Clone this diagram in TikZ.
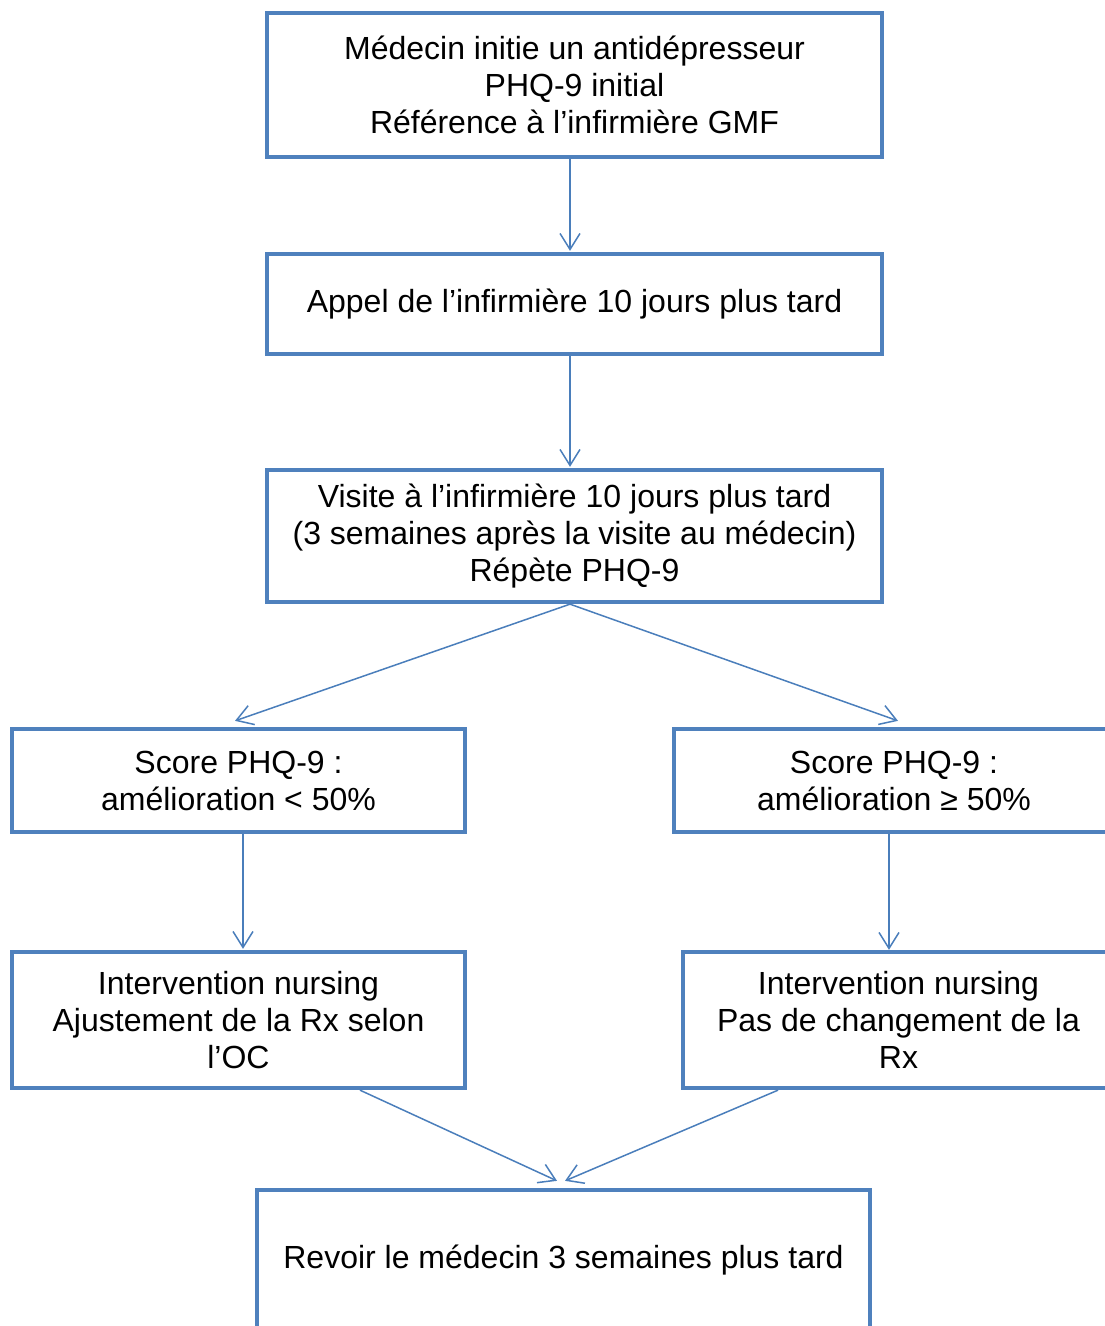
\documentclass[tikz,border=0pt]{standalone}
\usepackage{fontspec}
\setmainfont{Liberation Sans}
\usetikzlibrary{arrows.meta,calc}
\definecolor{boxblue}{HTML}{4F81BD}
\definecolor{arrblue}{HTML}{4A7EBB}
\begin{document}
\begin{tikzpicture}[x=1pt,y=-1pt,
  box/.style={draw=boxblue,line width=4.3pt,rectangle,align=center,inner sep=0pt,
    font=\fontsize{32}{37}\selectfont},
  arr/.style={draw=arrblue,line width=1.5pt,-{Straight Barb[length=16pt,width=20pt]}}]
\useasboundingbox (0,0) rectangle (1104,1326);
\node[box,minimum width=615,minimum height=144] (b1) at (574.5,85)
  {Médecin initie un antidépresseur\\PHQ-9 initial\\Référence à l’infirmière GMF};
\node[box,minimum width=615,minimum height=100] (b2) at (574.5,304)
  {\raisebox{-3pt}{Appel de l’infirmière 10 jours plus tard}};
\node[box,minimum width=615,minimum height=132] (b3) at (574.5,536)
  {Visite à l’infirmière 10 jours plus tard\\(3 semaines après la visite au médecin)\\Répète PHQ-9};
\node[box,minimum width=453,minimum height=103] (b4) at (238.5,780.5)
  {Score PHQ-9 :\\amélioration < 50\%};
\node[box,minimum width=440,minimum height=103] (b5) at (894,780.5)
  {Score PHQ-9 :\\amélioration ≥ 50\%};
\node[box,minimum width=453,minimum height=136] (b6) at (238.5,1020)
  {Intervention nursing\\Ajustement de la Rx selon\\l’OC};
\node[box,minimum width=431,minimum height=136] (b7) at (898.5,1020)
  {Intervention nursing\\Pas de changement de la\\Rx};
\node[box,minimum width=613,text height=78.5pt,text depth=71.5pt,anchor=base] (b8) at (563.5,1268.5)
  {Revoir le médecin 3 semaines plus tard};
\draw[arr] ($(b1.south)+(-4.5,0)$) -- ($(b2.north)+(-4.5,-1)$);
\draw[arr] ($(b2.south)+(-4.5,0)$) -- ($(b3.north)+(-4.5,-1)$);
\draw[arr] ($(b3.south)+(-4.5,0)$) -- ($(b4.north)+(-3.5,-6)$);
\draw[arr] ($(b3.south)+(-4.5,0)$) -- ($(b5.north)+(4,-6)$);
\draw[arr] ($(b4.south)+(4.5,0)$) -- ($(b6.north)+(4.5,-1)$);
\draw[arr] ($(b5.south)+(-5,0)$) -- ($(b7.north)+(-9.5,0)$);
\draw[arr] ($(b6.south)+(121.5,0)$) -- ($(b8.north)+(-6.5,-7)$);
\draw[arr] ($(b7.south)+(-120.5,0)$) -- ($(b8.north)+(1.5,-7)$);
\end{tikzpicture}
\end{document}
